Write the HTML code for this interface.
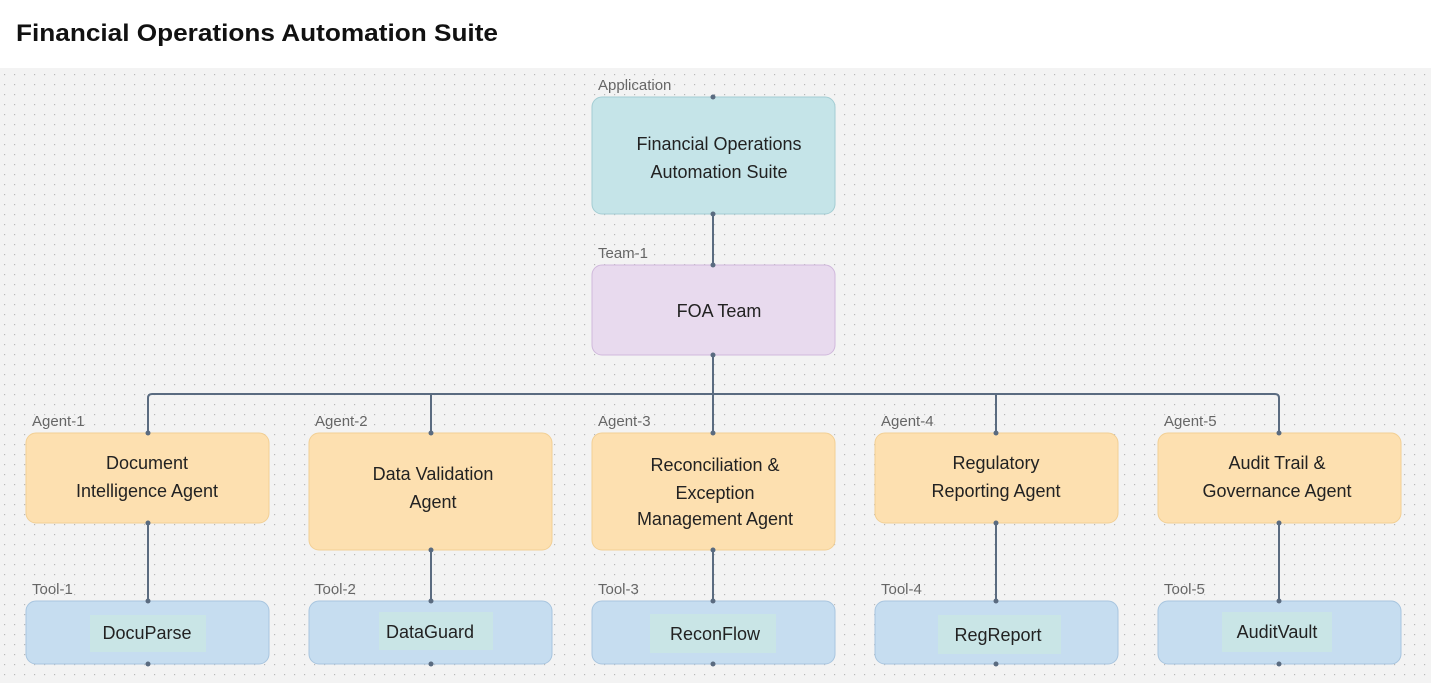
<!DOCTYPE html>
<html><head><meta charset="utf-8"><style>
body{margin:0;width:1431px;height:683px;overflow:hidden;background:#fff;font-family:"Liberation Sans",sans-serif}
</style></head><body>
<svg width="1431" height="683" xmlns="http://www.w3.org/2000/svg" font-family="Liberation Sans, sans-serif">
<defs><pattern id="d" width="10" height="10" patternUnits="userSpaceOnUse"><rect x="4" y="4" width="1.2" height="1.2" fill="#b8b8b8"/></pattern></defs>
<rect width="1431" height="683" fill="#fff"/>
<rect x="0" y="68" width="1431" height="615" fill="#f3f3f3"/>
<rect x="0" y="68" width="1431" height="615" fill="url(#d)"/>
<text x="16" y="41" font-size="24" font-weight="bold" fill="#111" textLength="482" lengthAdjust="spacingAndGlyphs">Financial Operations Automation Suite</text>
<g stroke="#5a6b80" stroke-width="2" fill="none">
<line x1="713" y1="214" x2="713" y2="265"/>
<line x1="713" y1="355" x2="713" y2="433"/>
<path d="M148 433 V398 Q148 394 152 394 H1275 Q1279 394 1279 398 V433"/>
<line x1="431" y1="394" x2="431" y2="433"/>
<line x1="996" y1="394" x2="996" y2="433"/>
<line x1="148" y1="523" x2="148" y2="601"/>
<line x1="431" y1="550" x2="431" y2="601"/>
<line x1="713" y1="550" x2="713" y2="601"/>
<line x1="996" y1="523" x2="996" y2="601"/>
<line x1="1279" y1="523" x2="1279" y2="601"/>
</g>
<g font-size="15" fill="#666">
<text x="598" y="90">Application</text><text x="598" y="258">Team-1</text>
<text x="32" y="426">Agent-1</text><text x="315" y="426">Agent-2</text><text x="598" y="426">Agent-3</text><text x="881" y="426">Agent-4</text><text x="1164" y="426">Agent-5</text>
<text x="32" y="594">Tool-1</text><text x="315" y="594">Tool-2</text><text x="598" y="594">Tool-3</text><text x="881" y="594">Tool-4</text><text x="1164" y="594">Tool-5</text>
</g>
<rect x="592" y="97" width="243" height="117" rx="10" fill="#c5e4e8" stroke="#a3cdd3"/>
<rect x="592" y="265" width="243" height="90" rx="10" fill="#e8daee" stroke="#d0b8dc"/>
<g fill="#fde0b0" stroke="#f2cf94">
<rect x="26" y="433" width="243" height="90" rx="10"/>
<rect x="309" y="433" width="243" height="117" rx="10"/>
<rect x="592" y="433" width="243" height="117" rx="10"/>
<rect x="875" y="433" width="243" height="90" rx="10"/>
<rect x="1158" y="433" width="243" height="90" rx="10"/>
</g>
<g fill="#c6ddf0" stroke="#a8c5df">
<rect x="26" y="601" width="243" height="63" rx="10"/>
<rect x="309" y="601" width="243" height="63" rx="10"/>
<rect x="592" y="601" width="243" height="63" rx="10"/>
<rect x="875" y="601" width="243" height="63" rx="10"/>
<rect x="1158" y="601" width="243" height="63" rx="10"/>
</g>
<g fill="#c9e5e6">
<rect x="90" y="615" width="116" height="37"/>
<rect x="379" y="612" width="114" height="38"/>
<rect x="650" y="614" width="126" height="39"/>
<rect x="938" y="615" width="123" height="39"/>
<rect x="1222" y="612" width="110" height="40"/>
</g>
<g fill="#5a6b80">
<circle cx="713" cy="97" r="2.5"/><circle cx="713" cy="214" r="2.5"/><circle cx="713" cy="265" r="2.5"/><circle cx="713" cy="355" r="2.5"/>
<circle cx="148" cy="433" r="2.5"/><circle cx="431" cy="433" r="2.5"/><circle cx="713" cy="433" r="2.5"/><circle cx="996" cy="433" r="2.5"/><circle cx="1279" cy="433" r="2.5"/>
<circle cx="148" cy="523" r="2.5"/><circle cx="431" cy="550" r="2.5"/><circle cx="713" cy="550" r="2.5"/><circle cx="996" cy="523" r="2.5"/><circle cx="1279" cy="523" r="2.5"/>
<circle cx="148" cy="601" r="2.5"/><circle cx="431" cy="601" r="2.5"/><circle cx="713" cy="601" r="2.5"/><circle cx="996" cy="601" r="2.5"/><circle cx="1279" cy="601" r="2.5"/>
<circle cx="148" cy="664" r="2.5"/><circle cx="431" cy="664" r="2.5"/><circle cx="713" cy="664" r="2.5"/><circle cx="996" cy="664" r="2.5"/><circle cx="1279" cy="664" r="2.5"/>
</g>
<g font-size="18" fill="#222" text-anchor="middle">
<text x="719" y="150">Financial Operations</text><text x="719" y="178">Automation Suite</text>
<text x="719" y="317">FOA Team</text>
<text x="147" y="469">Document</text><text x="147" y="497">Intelligence Agent</text>
<text x="433" y="480">Data Validation</text><text x="433" y="508">Agent</text>
<text x="715" y="471">Reconciliation &amp;</text><text x="715" y="499">Exception</text><text x="715" y="525">Management Agent</text>
<text x="996" y="469">Regulatory</text><text x="996" y="497">Reporting Agent</text>
<text x="1277" y="469">Audit Trail &amp;</text><text x="1277" y="497">Governance Agent</text>
<text x="147" y="639">DocuParse</text>
<text x="430" y="638">DataGuard</text>
<text x="715" y="640">ReconFlow</text>
<text x="998" y="641">RegReport</text>
<text x="1277" y="638">AuditVault</text>
</g>
</svg>
</body></html>
